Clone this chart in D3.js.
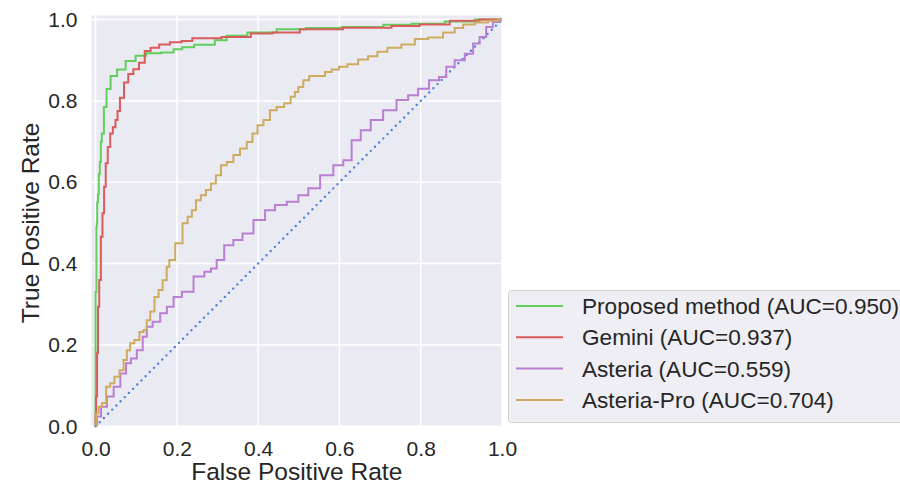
<!DOCTYPE html>
<html>
<head>
<meta charset="utf-8">
<script src="https://cdn.jsdelivr.net/npm/d3@7"></script>
<style>
  html, body { margin: 0; padding: 0; background: #fff; }
  svg { display: block; font-family: 'Liberation Sans', Arial, sans-serif; }
</style>
</head>
<body>
<div class="chart"></div>
<script>
// ROC curve points (false positive rate / true positive rate)
const proposedFpr = [0, 0, 0.002, 0.002, 0.004, 0.004, 0.008, 0.008, 0.013, 0.013, 0.018, 0.023, 0.031, 0.043, 0.063, 0.085, 0.112, 0.137, 0.186, 0.198, 0.228, 0.257, 0.289, 0.298, 0.347, 0.40, 0.491, 0.544, 0.667, 0.749, 0.805, 0.913, 0.953, 1.0];
const proposedTpr = [0, 0.33, 0.33, 0.49, 0.5, 0.55, 0.57, 0.62, 0.65, 0.70, 0.72, 0.785, 0.829, 0.861, 0.877, 0.898, 0.911, 0.917, 0.919, 0.927, 0.932, 0.938, 0.938, 0.949, 0.960, 0.968, 0.976, 0.979, 0.982, 0.987, 0.990, 0.995, 1.0, 1.0];

const geminiFpr = [0, 0, 0.0025, 0.005, 0.007, 0.011, 0.015, 0.019, 0.023, 0.027, 0.033, 0.039, 0.046, 0.052, 0.056, 0.064, 0.076, 0.085, 0.101, 0.113, 0.129, 0.142, 0.171, 0.195, 0.228, 0.248, 0.372, 0.392, 0.478, 0.527, 0.691, 0.765, 0.83, 0.913, 0.977, 1.0];
const geminiTpr = [0, 0.03, 0.073, 0.18, 0.294, 0.36, 0.466, 0.524, 0.589, 0.647, 0.687, 0.72, 0.735, 0.753, 0.775, 0.808, 0.845, 0.866, 0.878, 0.894, 0.923, 0.931, 0.939, 0.944, 0.947, 0.954, 0.957, 0.966, 0.968, 0.976, 0.98, 0.984, 0.988, 0.997, 1.0, 1.0];

const asteriaFpr = [0, 0.007, 0.02, 0.036, 0.053, 0.069, 0.081, 0.093, 0.11, 0.122, 0.13, 0.151, 0.167, 0.184, 0.2, 0.225, 0.257, 0.278, 0.29, 0.306, 0.327, 0.351, 0.372, 0.405, 0.429, 0.454, 0.487, 0.511, 0.536, 0.569, 0.601, 0.618, 0.642, 0.663, 0.691, 0.724, 0.757, 0.781, 0.806, 0.835, 0.855, 0.871, 0.896, 0.921, 0.937, 0.953, 0.969, 0.986, 1.0];
const asteriaTpr = [0, 0.024, 0.048, 0.073, 0.097, 0.13, 0.155, 0.167, 0.187, 0.22, 0.245, 0.257, 0.278, 0.294, 0.318, 0.331, 0.368, 0.38, 0.388, 0.409, 0.445, 0.458, 0.474, 0.507, 0.531, 0.544, 0.552, 0.568, 0.585, 0.617, 0.642, 0.654, 0.703, 0.728, 0.753, 0.777, 0.802, 0.814, 0.83, 0.851, 0.859, 0.884, 0.9, 0.916, 0.941, 0.957, 0.982, 0.994, 1.0];

const asteriaProFpr = [0, 0.003, 0.012, 0.02, 0.032, 0.04, 0.053, 0.065, 0.073, 0.081, 0.089, 0.102, 0.114, 0.122, 0.13, 0.139, 0.151, 0.159, 0.171, 0.179, 0.184, 0.208, 0.22, 0.233, 0.241, 0.253, 0.265, 0.278, 0.29, 0.302, 0.315, 0.331, 0.347, 0.364, 0.38, 0.392, 0.405, 0.421, 0.437, 0.454, 0.474, 0.486, 0.495, 0.503, 0.519, 0.532, 0.56, 0.569, 0.593, 0.605, 0.634, 0.658, 0.683, 0.704, 0.732, 0.773, 0.798, 0.839, 0.871, 0.896, 0.913, 0.953, 0.978, 1.0];
const asteriaProTpr = [0, 0.032, 0.048, 0.057, 0.097, 0.106, 0.122, 0.138, 0.163, 0.187, 0.204, 0.212, 0.232, 0.237, 0.261, 0.282, 0.318, 0.335, 0.359, 0.392, 0.409, 0.45, 0.499, 0.515, 0.531, 0.556, 0.568, 0.581, 0.597, 0.617, 0.642, 0.65, 0.667, 0.683, 0.699, 0.72, 0.74, 0.753, 0.777, 0.785, 0.794, 0.81, 0.822, 0.834, 0.851, 0.861, 0.861, 0.871, 0.877, 0.884, 0.89, 0.902, 0.91, 0.921, 0.931, 0.939, 0.952, 0.956, 0.968, 0.979, 0.988, 0.993, 0.997, 1.0];

const seriesLabels = ['Proposed method (AUC=0.950)', 'Gemini (AUC=0.937)', 'Asteria (AUC=0.559)', 'Asteria-Pro (AUC=0.704)'];
const tickValues = [0, 0.2, 0.4, 0.6, 0.8, 1.0];

const series = [
  { label: seriesLabels[0], fpr: proposedFpr, tpr: proposedTpr, color: '#62cf5c' },
  { label: seriesLabels[1], fpr: geminiFpr, tpr: geminiTpr, color: '#da5b5b' },
  { label: seriesLabels[2], fpr: asteriaFpr, tpr: asteriaTpr, color: '#b97fd2' },
  { label: seriesLabels[3], fpr: asteriaProFpr, tpr: asteriaProTpr, color: '#cdac62' },
];

const w = 900;
const h = 484;
const plotLeft = 91.5, plotRight = 502, plotTop = 15.5, plotBottom = 426.3;

const svg = d3.select('.chart').append('svg').attr('width', w).attr('height', h);

const xScale = d3.scaleLinear().domain([-0.01, 1.0]).range([plotLeft, plotRight]);
const yScale = d3.scaleLinear().domain([0, 1.01]).range([plotBottom, plotTop]);

// plot background
svg.append('rect')
  .attr('x', plotLeft).attr('y', plotTop)
  .attr('width', plotRight - plotLeft).attr('height', plotBottom - plotTop)
  .attr('fill', '#eaeaf2');

// grid
const grid = svg.append('g').attr('class', 'grid');
grid.selectAll('.vline').data(tickValues).enter().append('line')
  .attr('x1', (d) => xScale(d)).attr('x2', (d) => xScale(d))
  .attr('y1', plotTop).attr('y2', plotBottom)
  .attr('stroke', '#fff').attr('stroke-width', 1.5);
grid.selectAll('.hline').data(tickValues).enter().append('line')
  .attr('y1', (d) => yScale(d)).attr('y2', (d) => yScale(d))
  .attr('x1', plotLeft).attr('x2', plotRight)
  .attr('stroke', '#fff').attr('stroke-width', 1.5);

// chance line
svg.append('line')
  .attr('x1', xScale(0)).attr('y1', yScale(0))
  .attr('x2', xScale(1)).attr('y2', yScale(1))
  .attr('stroke', '#4d80d9').attr('stroke-width', 2.4)
  .attr('stroke-linecap', 'round').attr('stroke-dasharray', '0,5.9');

// curves
const line = d3.line()
  .x((d) => xScale(d[0]))
  .y((d) => yScale(d[1]))
  .curve(d3.curveStep);

svg.append('defs').append('clipPath').attr('id', 'clip')
  .append('rect').attr('x', plotLeft).attr('y', plotTop - 2)
  .attr('width', plotRight - plotLeft).attr('height', plotBottom - plotTop + 2);

const curves = svg.append('g').attr('clip-path', 'url(#clip)');
series.forEach((s) => {
  curves.append('path')
    .datum(s.fpr.map((f, i) => [f, s.tpr[i]]))
    .attr('d', line)
    .attr('fill', 'none')
    .attr('stroke', s.color)
    .attr('stroke-width', 2)
    .attr('stroke-linejoin', 'miter');
});

// axes
const xAxis = d3.axisBottom(xScale).tickValues(tickValues)
  .tickFormat(d3.format('.1f')).tickSize(0).tickPadding(15);
const xAxisG = svg.append('g').attr('transform', `translate(0,${plotBottom})`).call(xAxis);
xAxisG.select('.domain').remove();
xAxisG.selectAll('.tick text').style('font-size', '21px').attr('fill', '#262626')
  .style('font-family', "'Liberation Sans', Arial, sans-serif");

const yAxis = d3.axisLeft(yScale).tickValues(tickValues)
  .tickFormat(d3.format('.1f')).tickSize(0).tickPadding(14);
const yAxisG = svg.append('g').attr('transform', `translate(${plotLeft},0)`).call(yAxis);
yAxisG.select('.domain').remove();
yAxisG.selectAll('.tick text').style('font-size', '21px').attr('fill', '#262626')
  .style('font-family', "'Liberation Sans', Arial, sans-serif");

// axis labels
svg.append('text')
  .attr('x', (plotLeft + plotRight) / 2).attr('y', 480)
  .attr('text-anchor', 'middle').attr('fill', '#262626')
  .style('font-size', '24.5px')
  .text('False Positive Rate');

svg.append('text')
  .attr('transform', 'rotate(-90)')
  .attr('x', -(plotTop + plotBottom) / 2 - 2).attr('y', 39)
  .attr('text-anchor', 'middle').attr('fill', '#262626')
  .style('font-size', '24.5px')
  .text('True Positive Rate');

// legend
const legend = svg.append('g').attr('id', 'legend');
legend.append('rect')
  .attr('x', 508.5).attr('y', 290.5).attr('width', 400).attr('height', 132)
  .attr('rx', 3).attr('fill', '#eeeef4').attr('stroke', '#d0d0d0');

const rows = legend.selectAll('.legend-row').data(series).enter().append('g')
  .attr('class', 'legend-row')
  .attr('transform', (d, i) => `translate(0,${306 + i * 31.3})`);
rows.append('line')
  .attr('x1', 516).attr('x2', 563).attr('y1', 0).attr('y2', 0)
  .attr('stroke', (d) => d.color).attr('stroke-width', 2);
rows.append('text')
  .attr('x', 582).attr('y', 0).attr('dy', '0.35em')
  .attr('fill', '#262626').style('font-size', '22.6px')
  .text((d) => d.label);
</script>
</body>
</html>
